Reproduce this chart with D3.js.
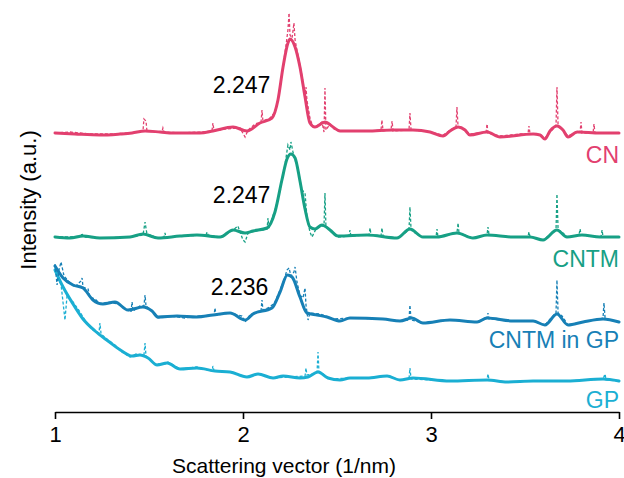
<!DOCTYPE html>
<meta charset="utf-8">
<style>
body { margin: 0; background: #fff; }
text { font-family: Arial, "Liberation Sans", Helvetica, sans-serif; }
.raw { fill: none; stroke-width: 1.3px; stroke-dasharray: 3,2; }
.smooth { fill: none; stroke-width: 3px; stroke-linejoin: round; stroke-linecap: round; }
.axis path, .axis line { stroke: #000; stroke-width: 1.6px; }
.axis text { font-size: 22px; fill: #000; }
</style>
<svg width="624" height="478"></svg>
<script src="https://d3js.org/d3.v7.min.js"></script>
<script>

// [q (1/nm), intensity (a.u., offset for stacking)]
var cnSmooth = [[1.000,69.75],[1.106,69.5],[1.239,69.25],[1.346,69.5],[1.410,69.75],[1.479,70.25],[1.559,70],[1.628,69.75],[1.771,69.75],[1.840,70.25],[1.947,71.25],[2.021,70.25],[2.090,72.25],[2.154,73.5],[2.186,78],[2.213,86.25],[2.239,92.25],[2.250,93.25],[2.277,91.25],[2.303,86.25],[2.330,78.75],[2.356,72.25],[2.383,71.25],[2.436,72.5],[2.479,71.25],[2.516,70.25],[2.660,70.25],[2.798,70.5],[2.904,70.5],[2.995,70],[3.064,69],[3.101,70.25],[3.144,71.25],[3.181,70.5],[3.207,69.25],[3.298,70],[3.367,68.75],[3.543,69.5],[3.580,69.25],[3.606,68.25],[3.633,70.25],[3.670,71.5],[3.702,70.5],[3.729,68.75],[3.777,70],[3.899,69.75],[4.000,69.75]];

var cnRaw = [[1.000,69.75],[1.080,70],[1.186,69.5],[1.293,69.5],[1.399,69.75],[1.468,70.25],[1.473,73.25],[1.484,72.75],[1.489,70.25],[1.532,70],[1.569,70],[1.574,71],[1.580,70],[1.665,69.75],[1.771,70],[1.835,70.25],[1.840,72.25],[1.846,70.25],[1.904,70.75],[1.984,71],[2.011,68.75],[2.027,70.5],[2.064,72],[2.096,72.5],[2.101,75.5],[2.106,72.75],[2.144,73.5],[2.170,75],[2.186,78],[2.207,84.25],[2.218,88],[2.229,91.75],[2.239,95.5],[2.245,99.75],[2.250,94.25],[2.261,93.5],[2.271,97.25],[2.277,93],[2.287,90.5],[2.303,86.75],[2.319,82.5],[2.330,79.25],[2.335,81.25],[2.340,78],[2.356,73.5],[2.372,71.25],[2.399,71.75],[2.420,72.5],[2.431,70],[2.436,81],[2.441,70.5],[2.463,72],[2.489,70.5],[2.543,70.25],[2.676,70.25],[2.734,70.5],[2.739,73],[2.745,70.25],[2.787,70.5],[2.793,72.75],[2.798,70.25],[2.883,70.5],[2.888,74.75],[2.894,70.5],[2.968,70.25],[3.064,69.25],[3.112,70.75],[3.133,71.25],[3.138,76.25],[3.144,71.25],[3.165,71],[3.207,69.5],[3.293,70],[3.298,72],[3.303,69.75],[3.367,69],[3.473,69.5],[3.516,69.5],[3.521,71.5],[3.527,69.5],[3.580,69.25],[3.606,68.5],[3.644,70.5],[3.665,71.5],[3.670,81.25],[3.676,71.5],[3.697,70.75],[3.729,69],[3.766,69.75],[3.793,70],[3.798,72.5],[3.803,69.75],[3.862,69.75],[3.867,72],[3.872,69.75],[3.952,69.75],[4.000,69.75]];

var cntmSmooth = [[1.000,43.75],[1.080,43.5],[1.149,44],[1.239,43.5],[1.399,43.75],[1.468,44.5],[1.548,43.5],[1.665,44],[1.755,44.25],[1.878,43.75],[1.947,45.5],[2.011,44.75],[2.053,45.25],[2.128,46],[2.170,50],[2.207,58],[2.234,63.25],[2.255,64.5],[2.277,63.5],[2.303,57.75],[2.330,50.75],[2.356,46.25],[2.383,45.75],[2.420,46.75],[2.463,45.5],[2.505,44],[2.660,44.25],[2.819,43.5],[2.888,45.75],[2.957,43.75],[3.032,43.75],[3.138,44.75],[3.223,43.5],[3.298,44.25],[3.436,43.75],[3.527,43.75],[3.596,43],[3.670,45.5],[3.723,43.75],[3.803,44.25],[3.899,43.75],[4.000,43.75]];

var cntmRaw = [[1.000,43.75],[1.080,43.75],[1.138,44],[1.144,44.75],[1.149,43.75],[1.239,43.5],[1.399,43.75],[1.468,44.25],[1.479,47.5],[1.489,44.5],[1.548,43.5],[1.580,43.75],[1.585,44.75],[1.590,43.75],[1.691,44],[1.803,44.25],[1.809,45],[1.814,44.25],[1.878,43.75],[1.941,45.25],[1.973,46.5],[1.984,45],[2.000,43],[2.011,42.5],[2.027,44.75],[2.064,45.25],[2.128,45.75],[2.133,48.5],[2.138,46],[2.170,50.5],[2.197,55],[2.223,61.75],[2.239,66.75],[2.250,65.5],[2.255,67.5],[2.266,65],[2.277,63],[2.293,60.5],[2.314,55.5],[2.330,54.75],[2.335,51.75],[2.340,48.75],[2.356,45],[2.367,43.75],[2.388,45.75],[2.410,46.5],[2.431,46.5],[2.436,54.75],[2.441,46.5],[2.463,45.25],[2.505,43.75],[2.564,44],[2.569,45.5],[2.574,44],[2.670,44.25],[2.676,46],[2.681,44.25],[2.734,44],[2.739,46],[2.745,44],[2.819,43.5],[2.862,44.75],[2.883,45.5],[2.888,51.25],[2.894,45.5],[2.915,44.75],[2.957,43.75],[3.027,43.75],[3.032,45.75],[3.037,43.75],[3.112,44.5],[3.138,44.75],[3.144,47.25],[3.149,44.75],[3.181,44.25],[3.223,43.5],[3.298,44.25],[3.303,46.25],[3.309,44.25],[3.436,43.75],[3.516,43.75],[3.521,45],[3.527,43.75],[3.596,43],[3.644,44.75],[3.665,45.5],[3.670,54.5],[3.676,45.5],[3.697,45],[3.723,43.75],[3.787,44.25],[3.793,45.75],[3.798,44.25],[3.904,43.75],[3.910,45.5],[3.915,43.75],[4.000,43.75]];

var cntmGpSmooth = [[1.000,36.5],[1.043,33.5],[1.096,31.75],[1.149,31],[1.202,28],[1.255,27],[1.319,27.5],[1.388,25.5],[1.468,26.25],[1.516,25.25],[1.548,23.75],[1.649,24],[1.755,23.75],[1.840,24.25],[1.931,24.75],[2.011,23],[2.053,24.5],[2.154,26],[2.197,30],[2.236,34.25],[2.261,33.75],[2.303,28.75],[2.340,24.75],[2.394,24.25],[2.447,23.75],[2.516,22.75],[2.569,23.5],[2.745,23.25],[2.835,22.75],[2.899,23.5],[2.957,22.25],[3.101,23],[3.245,22.5],[3.298,23.5],[3.436,22.75],[3.543,22.75],[3.606,21.75],[3.670,24.5],[3.729,21.75],[3.809,22.5],[3.915,23.25],[4.000,22.5]];

var cntmGpRaw = [[1.000,37],[1.011,31.75],[1.021,35.5],[1.032,37.5],[1.048,34],[1.080,32.25],[1.106,31.25],[1.138,32.75],[1.144,33.5],[1.149,31.25],[1.176,30.75],[1.186,28.75],[1.213,28.25],[1.239,27],[1.282,27.5],[1.335,27],[1.372,26],[1.404,25],[1.410,27.5],[1.415,25.25],[1.452,26.5],[1.473,26.5],[1.479,29.25],[1.484,26.5],[1.516,25.25],[1.548,23.5],[1.612,24],[1.691,23.5],[1.771,24],[1.846,24.25],[1.851,26],[1.856,24.25],[1.931,24.75],[1.995,24],[2.011,22.5],[2.037,24.25],[2.069,25],[2.096,25.25],[2.101,28],[2.106,25.5],[2.144,26.25],[2.170,27.5],[2.197,30.5],[2.218,33],[2.234,35.5],[2.245,36],[2.255,34],[2.271,35],[2.277,36.25],[2.287,32.5],[2.303,29.25],[2.319,28.5],[2.330,31],[2.335,26.75],[2.346,23],[2.356,24.75],[2.410,24.5],[2.479,23.25],[2.569,23.5],[2.745,23.25],[2.835,22.75],[2.883,23],[2.888,26.75],[2.894,23],[2.957,22.25],[3.101,23],[3.245,22.5],[3.298,23.5],[3.303,24.75],[3.309,23.25],[3.436,22.75],[3.543,22.75],[3.606,21.75],[3.644,23.75],[3.665,24.75],[3.670,33],[3.676,24.75],[3.697,24],[3.729,21.75],[3.809,22.5],[3.899,23.25],[3.915,23.5],[3.920,27.25],[3.926,23.5],[3.952,23],[4.000,22.5]];

var gpSmooth = [[1.000,35.5],[1.043,31.25],[1.096,27],[1.149,23.25],[1.213,20.25],[1.282,17.75],[1.356,15.25],[1.410,14],[1.452,14.25],[1.495,13.5],[1.543,11.75],[1.596,12.25],[1.665,10.75],[1.755,11],[1.851,10.25],[1.931,10],[2.021,8.75],[2.080,9.5],[2.160,8.5],[2.213,9],[2.303,8.5],[2.346,8.75],[2.399,10],[2.452,8.5],[2.516,8],[2.569,8.5],[2.660,8.5],[2.766,9],[2.835,8],[2.904,8.5],[3.101,7.75],[3.298,8],[3.404,7.5],[3.543,7.75],[3.723,7.75],[3.915,8.25],[4.000,7.75]];

var gpRaw = [[1.000,36],[1.016,33],[1.032,32],[1.053,23],[1.064,29],[1.096,27.5],[1.133,25],[1.165,22.5],[1.202,20.5],[1.234,19.75],[1.239,22.25],[1.245,19.5],[1.282,18],[1.319,16.75],[1.356,15],[1.399,13.75],[1.431,14.5],[1.473,14.25],[1.479,17.25],[1.484,14],[1.532,12],[1.585,12],[1.601,12.5],[1.665,10.75],[1.755,11.25],[1.835,10.25],[1.840,11.5],[1.846,10.25],[1.931,10],[2.021,8.75],[2.080,9.5],[2.160,8.5],[2.250,8.75],[2.330,9],[2.335,11],[2.340,9.25],[2.378,9.5],[2.394,10],[2.399,15],[2.404,10],[2.426,9.5],[2.463,8.25],[2.569,8.5],[2.660,8.5],[2.766,9],[2.835,8],[2.883,8.25],[2.888,11],[2.894,8.25],[3.101,7.75],[3.298,8],[3.303,9.5],[3.309,8],[3.404,7.5],[3.543,7.75],[3.723,7.75],[3.915,8.25],[3.926,9.5],[3.931,8],[4.000,7.75]];

var seriesNames = ["CN", "CNTM", "CNTM in GP", "GP"];
var seriesColors = ["#e2406f", "#17a085", "#1780b6", "#1bafd3"];
var smoothData = [cnSmooth, cntmSmooth, cntmGpSmooth, gpSmooth];
var rawData = [cnRaw, cntmRaw, cntmGpRaw, gpRaw];
var nameLevel = [62.25, 36.25, 16, 1];

var peakQ = [2.247, 2.247, 2.236];
var peakText = ["2.247", "2.247", "2.236"];
var peakLevel = [79.75, 52.25, 29.25];

var xTicks = [1, 2, 3, 4];

var svg = d3.select("svg"),
    plotLeft = 55, plotRight = 619, plotBottom = 412, plotTop = 12;

var x = d3.scaleLinear().domain([1, 4]).range([plotLeft, plotRight]);
var y = d3.scaleLinear().domain([0, 100]).range([plotBottom, plotTop]);

var line = d3.line()
    .x(function(d) { return x(d[0]); })
    .y(function(d) { return y(d[1]); });

var smoothLine = d3.line()
    .curve(d3.curveMonotoneX)
    .x(function(d) { return x(d[0]); })
    .y(function(d) { return y(d[1]); });

// bottom series first
for (var i = seriesNames.length - 1; i >= 0; i--) {
  svg.append("path")
      .attr("class", "smooth")
      .attr("stroke", seriesColors[i])
      .attr("d", smoothLine(smoothData[i]));
  svg.append("path")
      .attr("class", "raw")
      .attr("stroke", seriesColors[i])
      .attr("d", line(rawData[i]));
}

svg.selectAll(".name")
  .data(seriesNames)
  .enter().append("text")
    .attr("class", "name")
    .attr("x", plotRight)
    .attr("y", function(d, i) { return y(nameLevel[i]); })
    .attr("text-anchor", "end")
    .style("font-size", "23px")
    .style("fill", function(d, i) { return seriesColors[i]; })
    .text(function(d) { return d; });

svg.selectAll(".peak")
  .data(peakText)
  .enter().append("text")
    .attr("class", "peak")
    .attr("x", function(d, i) { return x(peakQ[i]) - 19; })
    .attr("y", function(d, i) { return y(peakLevel[i]); })
    .attr("text-anchor", "end")
    .style("font-size", "23px")
    .style("fill", "#000")
    .text(function(d) { return d; });

svg.append("g")
    .attr("class", "axis")
    .attr("transform", "translate(0," + plotBottom + ")")
    .call(d3.axisBottom(x)
      .tickValues(xTicks)
      .tickFormat(d3.format("d"))
      .tickSize(7)
      .tickSizeOuter(0)
      .tickPadding(7));

svg.append("text")
    .attr("x", 284)
    .attr("y", 473)
    .attr("text-anchor", "middle")
    .style("font-size", "21px")
    .text("Scattering vector (1/nm)");

svg.append("text")
    .attr("transform", "translate(36,200) rotate(-90)")
    .attr("text-anchor", "middle")
    .style("font-size", "22px")
    .text("Intensity (a.u.)");

</script>
